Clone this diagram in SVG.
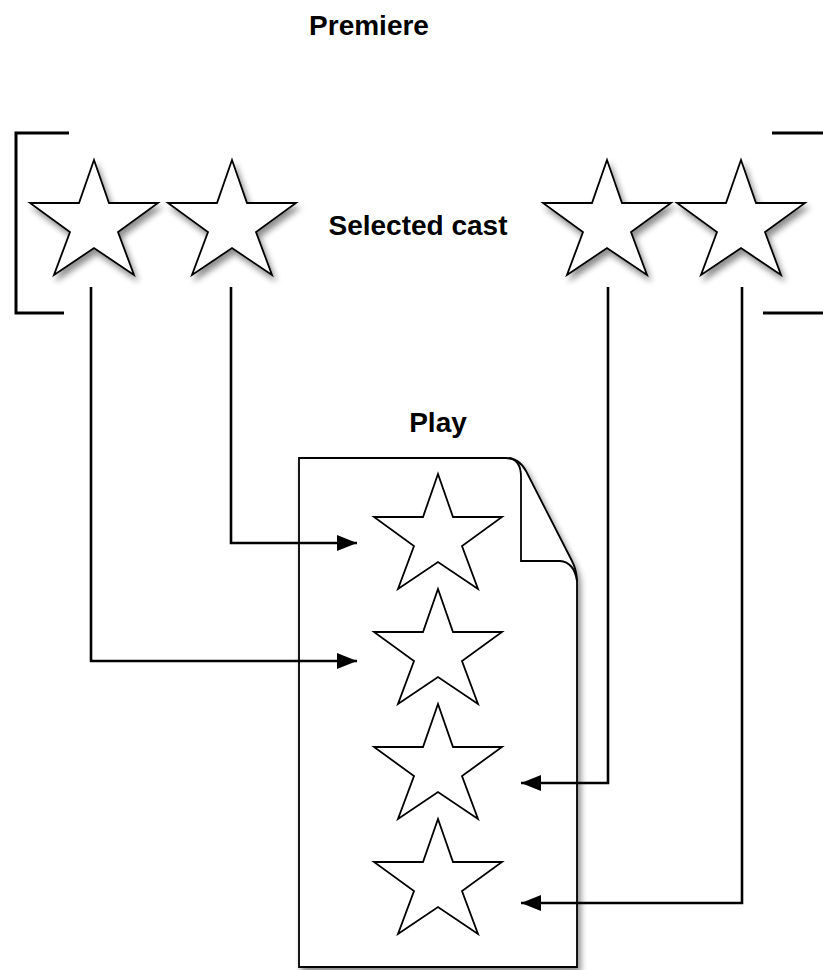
<svg xmlns="http://www.w3.org/2000/svg" xmlns:xlink="http://www.w3.org/1999/xlink" width="823" height="970" viewBox="0 0 823 970">
  <style>
    .label { font-family: "Liberation Sans", Arial, sans-serif; font-weight: bold; font-size: 28px; fill: #000; text-anchor: middle; }
    .bracket { fill: none; stroke: #000; stroke-width: 3; }
    .star { fill: #fff; stroke: #000; stroke-width: 1.8; stroke-linejoin: miter; }
    .page { fill: #fff; stroke: #000; stroke-width: 1.8; }
    .fold { fill: none; stroke: #000; stroke-width: 1.8; }
    .conn { fill: none; stroke: #000; stroke-width: 2.6; }
  </style>
  <defs>
    <path id="star" d="M0,0 L15,43 L64,43 L24,72 L40,115 L0,88 L-40,115 L-24,72 L-64,43 L-15,43 Z"/>
    <filter id="shadow" x="-20%" y="-20%" width="150%" height="150%">
      <feGaussianBlur in="SourceAlpha" stdDeviation="3"/>
      <feOffset dx="3" dy="5" result="blur"/>
      <feComponentTransfer><feFuncA type="linear" slope="0.45"/></feComponentTransfer>
      <feMerge><feMergeNode/><feMergeNode in="SourceGraphic"/></feMerge>
    </filter>
    <marker id="arrow" markerUnits="userSpaceOnUse" markerWidth="22" markerHeight="18" refX="20" refY="8" orient="auto">
      <path d="M0,0 L20,8 L0,16 Z" fill="#000"/>
    </marker>
  </defs>

  <g id="premiere">
    <text class="label" x="369" y="35">Premiere</text>
  </g>

  <g id="cast-bracket">
    <path class="bracket" d="M69,133 H16 V313 H64"/>
    <path class="bracket" d="M772,133 H823"/>
    <path class="bracket" d="M763,313 H823"/>
  </g>

  <g id="selected-cast">
    <text class="label" x="418" y="235">Selected cast</text>
  </g>

  <g id="cast-star-1" filter="url(#shadow)"><use href="#star" class="star" x="94" y="160"/></g>
  <g id="cast-star-2" filter="url(#shadow)"><use href="#star" class="star" x="232" y="160"/></g>
  <g id="cast-star-3" filter="url(#shadow)"><use href="#star" class="star" x="607" y="160"/></g>
  <g id="cast-star-4" filter="url(#shadow)"><use href="#star" class="star" x="741" y="160"/></g>

  <g id="play-title">
    <text class="label" x="438" y="432">Play</text>
  </g>

  <g id="play">
    <path class="page" filter="url(#shadow)" d="M299,458 L506,458 Q519,458 526,471 L572,561 Q577,571 577,582 L577,967 L299,967 Z"/>
    <path class="fold" d="M509,458 Q521,460 521,477 L521,561 L560,561 Q574,562 577,581"/>
    <g id="role-1"><use href="#star" class="star" x="438" y="474"/></g>
    <g id="role-2"><use href="#star" class="star" x="438" y="589"/></g>
    <g id="role-3"><use href="#star" class="star" x="438" y="704"/></g>
    <g id="role-4"><use href="#star" class="star" x="438" y="819"/></g>
  </g>

  <g id="connectors">
    <path class="conn" d="M231,287 V543 H357" marker-end="url(#arrow)"/>
    <path class="conn" d="M91,287 V661 H357" marker-end="url(#arrow)"/>
    <path class="conn" d="M608,287 V783 H521" marker-end="url(#arrow)"/>
    <path class="conn" d="M742,287 V903 H521" marker-end="url(#arrow)"/>
  </g>
</svg>
